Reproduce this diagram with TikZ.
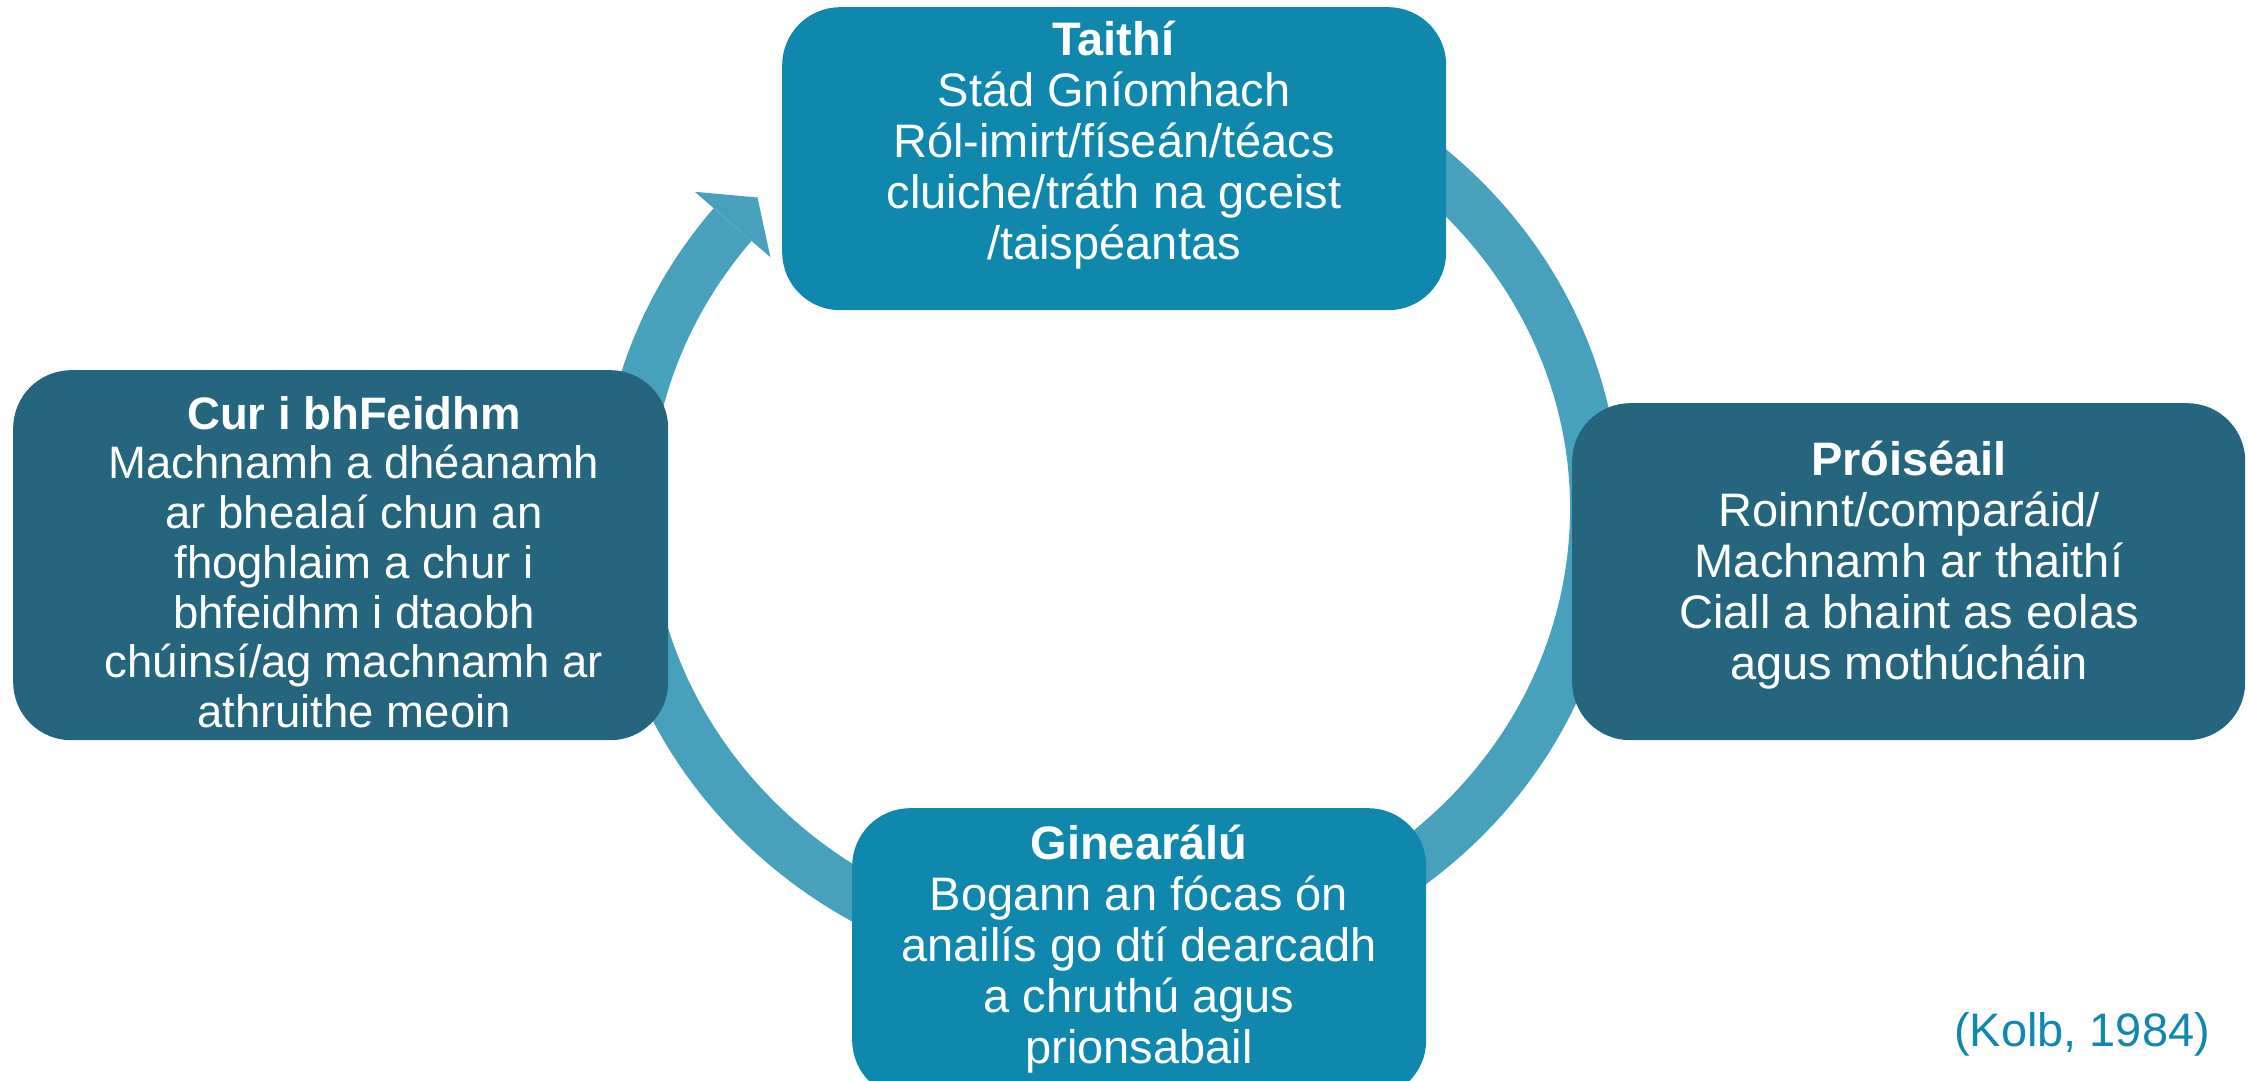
\documentclass[tikz,border=0pt]{standalone}
\usepackage{fontspec}
\setmainfont{Liberation Sans}
\definecolor{ringc}{RGB}{71,161,188}
\definecolor{boxa}{RGB}{16,136,173}
\definecolor{boxb}{RGB}{37,101,125}
\begin{document}
\begin{tikzpicture}[x=1pt,y=-1pt,
  box/.style={rectangle, rounded corners=58pt, inner sep=0pt, anchor=north west},
  txt/.style={text=white, align=center, inner sep=0pt, anchor=north, font=\fontsize{47}{51}\selectfont},
  ring/.style={line width=50pt, draw=ringc, line cap=butt}]
\useasboundingbox (0,0) rectangle (2249,1081);
% cycle arrow
\coordinate (C) at (1110,509);
\draw[ring] ([shift={(-80:485 and 453)}]C) arc[start angle=-80, end angle=218.9, x radius=485, y radius=453];
\coordinate (hb1) at (694.8,191.8);
\coordinate (htip) at (757.5,197.5);
\coordinate (hb2) at (770.4,257.2);
\fill[ringc] (hb1) -- (htip) -- (hb2) -- cycle;
% boxes
\node[box, fill=boxa, minimum width=664pt, minimum height=303pt] (taithi) at (782,7) {};
\node[box, fill=boxb, minimum width=655pt, minimum height=370pt] (cur) at (13,370) {};
\node[box, fill=boxb, minimum width=673pt, minimum height=337pt] (proi) at (1572,403) {};
\node[box, fill=boxa, minimum width=574pt, minimum height=290pt] (gin) at (852,808) {};
% texts
\node[txt] (taithiT) at (1114,15) {\rule{0pt}{40pt}\textbf{Taithí}\\Stád Gníomhach\\Ról-imirt/físeán/téacs\\cluiche/tráth na gceist\\/taispéantas};
\node[txt, font=\fontsize{45.5}{49.7}\selectfont] (curT) at (354,389) {\rule{0pt}{40pt}\textbf{Cur i bhFeidhm}\\Machnamh a dhéanamh\\ar bhealaí chun an\\fhoghlaim a chur i\\bhfeidhm i dtaobh\\chúinsí/ag machnamh ar\\athruithe meoin};
\node[txt] (proiT) at (1909,435) {\rule{0pt}{40pt}\textbf{Próiséail}\\Roinnt/comparáid/\\Machnamh ar thaithí\\Ciall a bhaint as eolas\\agus mothúcháin};
\node[txt] (ginT) at (1139,819) {\rule{0pt}{40pt}\textbf{Ginearálú}\\Bogann an fócas ón\\anailís go dtí dearcadh\\a chruthú agus\\prionsabail};
\node[anchor=base, inner sep=0pt, text=boxa, font=\fontsize{47}{51}\selectfont] (kolb) at (2082,1046) {(Kolb, 1984)};
\end{tikzpicture}
\end{document}
